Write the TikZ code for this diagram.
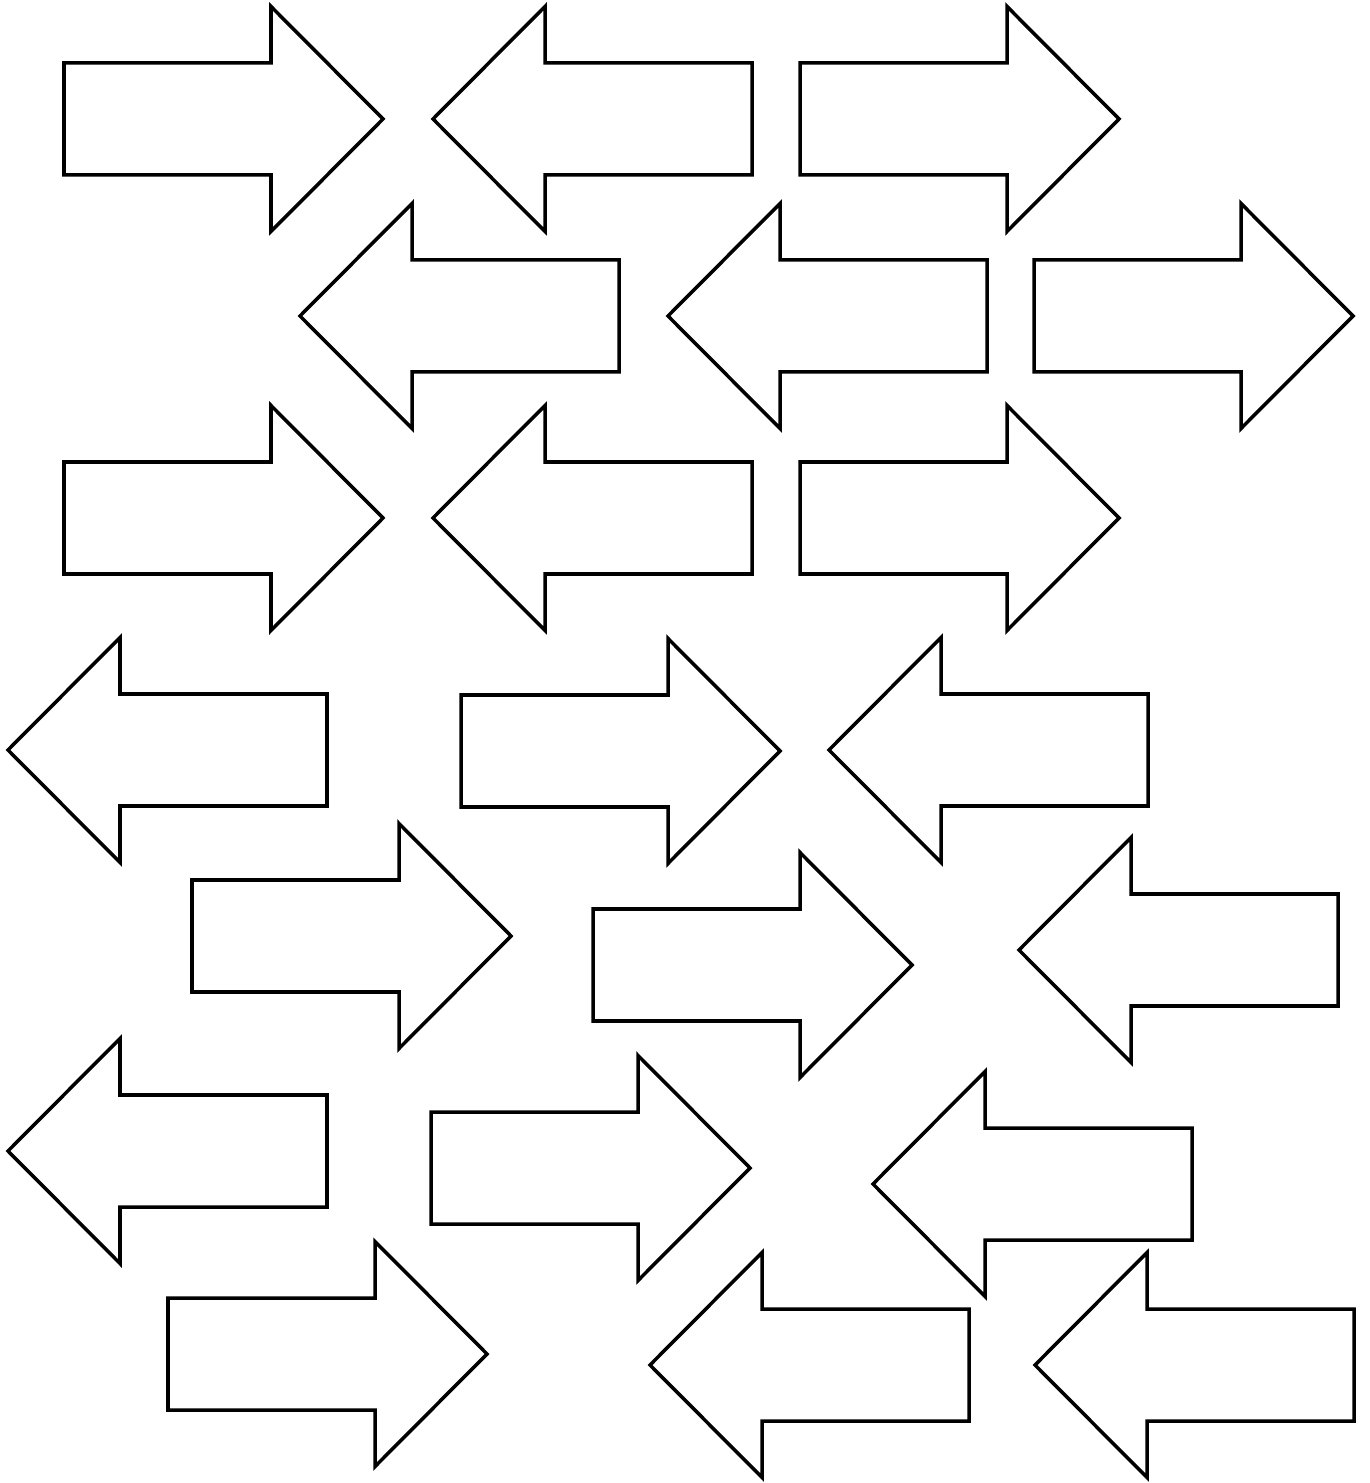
\documentclass[tikz,border=0pt]{standalone}

\tikzset{
	outline/.style={draw=black, line width=1pt, line join=miter},
	pics/blockarrow/.style={code={
		\draw[outline] (0,0) -- (-112,-112.5) -- (-112,-56) -- (-319,-56)
			-- (-319,56) -- (-112,56) -- (-112,112.5) -- cycle;
	}},
	leftward/.style={xscale=-1},
}

\begin{document}
\begin{tikzpicture}[x=0.01cm, y=-0.01cm]
	\useasboundingbox (0,0) rectangle (1369,1483);
	
	% 第一行
	\pic at (383,119) {blockarrow};
	\pic[leftward] at (433,119) {blockarrow};
	\pic at (1119,119) {blockarrow};
	
	% 第二行
	\pic[leftward] at (300,316) {blockarrow};
	\pic[leftward] at (668,316) {blockarrow};
	\pic at (1353,316) {blockarrow};
	
	% 第三行
	\pic at (383,518) {blockarrow};
	\pic[leftward] at (433,518) {blockarrow};
	\pic at (1119,518) {blockarrow};
	
	% 第四行
	\pic[leftward] at (8,750) {blockarrow};
	\pic at (780,751) {blockarrow};
	\pic[leftward] at (829,750) {blockarrow};
	
	% 第五行（错位）
	\pic at (511,936) {blockarrow};
	\pic at (912,965) {blockarrow};
	\pic[leftward] at (1019,950) {blockarrow};
	
	% 第六行
	\pic[leftward] at (8,1151) {blockarrow};
	\pic at (750,1168) {blockarrow};
	\pic[leftward] at (873,1184) {blockarrow};
	
	% 第七行
	\pic at (487,1354) {blockarrow};
	\pic[leftward] at (650,1365) {blockarrow};
	\pic[leftward] at (1035,1365) {blockarrow};
\end{tikzpicture}
\end{document}
